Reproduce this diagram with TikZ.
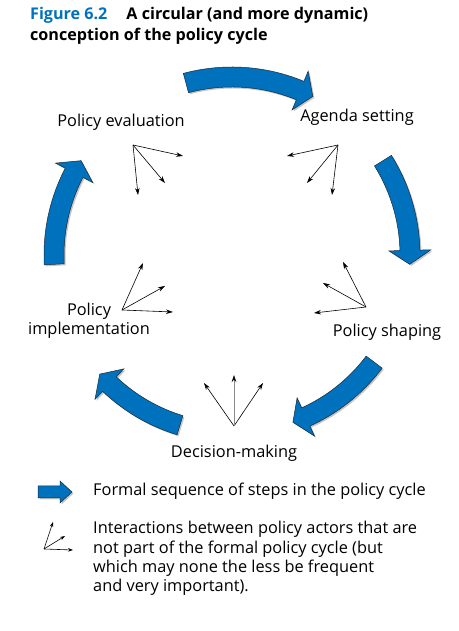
\documentclass[tikz,border=0pt]{standalone}
\usepackage{fontspec}
\setmainfont{Open Sans}
\usepackage{xcolor}
\usetikzlibrary{positioning,arrows.meta,calc,shadows}
\definecolor{cyc}{HTML}{0071BC}
\definecolor{edge}{HTML}{1A2A3A}
\definecolor{soft}{HTML}{8A8A8A}
\begin{document}
\begin{tikzpicture}[x=1bp,y=1bp,
  font=\fontsize{16.4}{19.5}\selectfont,
  lbl/.style={inner sep=0pt,align=center},
  flow/.style={fill=cyc,draw=edge,line width=0.5bp,
               drop shadow={shadow xshift=1.5bp,shadow yshift=-1.5bp,fill=black!45,opacity=0.5}},
  act/.style={-{Stealth[length=7bp,width=4.5bp]},draw=black,line width=0.6bp}]
\useasboundingbox (0,0) rectangle (459,631);
% title
\node[lbl,anchor=north west,align=left,font=\fontsize{16.2}{21}\selectfont\bfseries] (title) at (30,624)
  {\textcolor{cyc}{Figure 6.2}\hspace{19bp}A circular (and more dynamic)\\conception of the policy cycle};
% the five steps
\node[lbl] (eval) at (121,509) {Policy evaluation};
\node[lbl] (agenda) at (357,514) {Agenda setting};
\node[lbl] (shape) at (387,299) {Policy shaping};
\node[lbl] (decide) at (234,178) {Decision-making};
\node[lbl] (impl) at (89,310) {Policy\\implementation};
% formal cycle
\coordinate (ctr) at (232,376);
\foreach \s/\e in {105/63,32/-3,-37/-70,-107/-138,183/148}{
  \pgfmathsetmacro\h{\e+4.5}
  \filldraw[flow] ($(ctr)+(\s:188bp)$) arc[start angle=\s,end angle=\h,radius=188bp]
    -- ($(ctr)+(\h:199bp)$) -- ($(ctr)+(\e:178bp)$) -- ($(ctr)+(\h:157bp)$)
    -- ($(ctr)+(\h:168bp)$) arc[start angle=\h,end angle=\s,radius=168bp] -- cycle;
}
% informal interactions
\coordinate (ipe) at (133,486);
\coordinate (ias) at (338,486);
\coordinate (ipi) at (122,321);
\coordinate (ips) at (366,324);
\coordinate (idm) at (234,205);
\foreach \o/\dx/\dy in {ipe/50/-11,ipe/32/-38,ipe/5/-50,
                         ias/-51/-11,ias/-31/-38,ias/-6/-50,
                         ipi/21/47,ipi/43/24,ipi/51/-2,
                         ips/-23/45,ips/-43/24,ips/-52/-6,
                         idm/-30/43,idm/29/43}
  \draw[act] (\o) -- ++(\dx,\dy);
\draw[act,draw=soft,-{Stealth[length=7bp,width=4.5bp,color=black]}] (idm) -- ++(0,51);
% key
\filldraw[flow] (38,133) -- (60,133) -- (60,128) -- (72,139) -- (60,150) -- (60,145) -- (38,145) -- cycle;
\node[lbl,anchor=west] (k1) at (93,140) {Formal sequence of steps in the policy cycle};
\coordinate (key) at (44,82);
\draw[act,-{Stealth[length=5bp,width=3.5bp]}] (key) -- ++(9,27);
\draw[act,-{Stealth[length=5bp,width=3.5bp]}] (key) -- ++(21,13);
\draw[act,-{Stealth[length=5bp,width=3.5bp]}] (key) -- ++(29,-1);
\node[lbl,anchor=north west,align=left] (k2) at (93,110)
  {Interactions between policy actors that are\\not part of the formal policy cycle (but\\which may none the less be frequent\\and very important).};
\end{tikzpicture}
\end{document}
